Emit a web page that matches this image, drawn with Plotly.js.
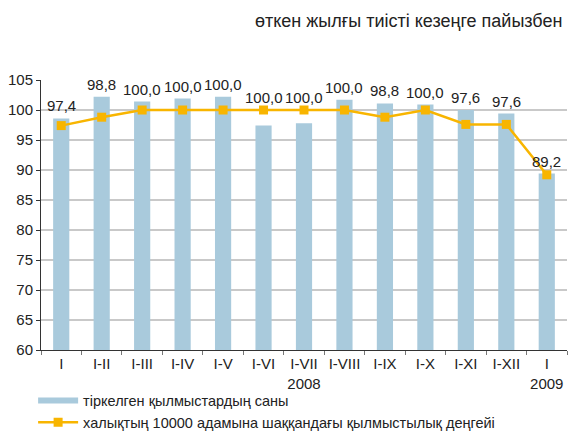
<!DOCTYPE html>
<html><head><meta charset="utf-8">
<script src="https://cdn.plot.ly/plotly-3.0.1.min.js"></script>
<style>body{margin:0;background:#fff}#chart{width:571px;height:433px}</style>
</head><body><div id="chart"></div>
<script>
var categories = ["I","I-II","I-III","I-IV","I-V","I-VI","I-VII","I-VIII","I-IX","I-X","I-XI","I-XII","I "];
var tickLabels = ["I","I-II","I-III","I-IV","I-V","I-VI","I-VII<br>2008","I-VIII","I-IX","I-X","I-XI","I-XII","I<br>2009"];
var crimesCount = [98.6,102.2,101.4,101.9,102.2,97.4,97.8,101.7,101.1,100.9,100.0,99.4,89.4];
var crimeRate = [97.4,98.8,100.0,100.0,100.0,100.0,100.0,100.0,98.8,100.0,97.6,97.6,89.2];
var barName = "тіркелген қылмыстардың саны";
var lineName = "халықтың 10000 адамына шаққандағы қылмыстылық деңгейі";
var titleText = "өткен жылғы тиісті кезеңге пайызбен";

var barColor = "#a9cadc", lineColor = "#f8b500";
var font = "Liberation Sans, Arial, sans-serif";

var traces = [
  {type:"bar", x:categories, y:crimesCount, marker:{color:barColor}, width:0.4, showlegend:false, hoverinfo:"skip"},
  {type:"scatter", mode:"lines", x:[categories[0]], y:[null], name:barName, line:{color:barColor, width:6}, showlegend:true},
  {type:"scatter", mode:"lines+markers", x:categories, y:crimeRate, name:lineName,
   line:{color:lineColor, width:2.5}, marker:{symbol:"square", size:9, color:lineColor}}
];

var annotations = categories.map(function(c,i){
  return {x:c, y:Math.max(crimesCount[i], crimeRate[i]), text:crimeRate[i].toFixed(1).replace(".", ","),
    showarrow:false, yanchor:"bottom", yshift:2, font:{family:font, size:15, color:"#222"}};
});

var layout = {
  width:571, height:433,
  margin:{l:41, r:4, t:80, b:83},
  paper_bgcolor:"#fff", plot_bgcolor:"#fff",
  font:{family:font, size:15, color:"#222"},
  title:{text:titleText, x:0.985, xanchor:"right", y:0.953, yanchor:"middle", font:{family:font, size:18, color:"#222"}},
  bargap:0.6,
  xaxis:{type:"category", range:[-0.5,12.5], autorange:false, tickvals:categories, ticktext:tickLabels, tickangle:0, automargin:false, showline:true, linecolor:"#333", linewidth:1,
    ticks:"outside", tickson:"boundaries", ticklen:4, tickcolor:"#777", showgrid:false,
    tickfont:{family:font, size:15, color:"#222"}, fixedrange:true},
  yaxis:{range:[60,105], dtick:5, automargin:false, showline:true, linecolor:"#333", linewidth:1, ticks:"outside", ticklen:4, tickcolor:"#333",
    showgrid:true, gridcolor:"#c9c9c9", gridwidth:2, zeroline:false, tickfont:{family:font, size:15, color:"#222"}},
  legend:{x:-0.015, xanchor:"left", yref:"container", y:0.112, yanchor:"top", orientation:"v", font:{family:font, size:14.5, color:"#222"},
    tracegroupgap:0, itemwidth:40, bgcolor:"rgba(0,0,0,0)"},
  annotations:annotations,
  showlegend:true
};
Plotly.newPlot("chart", traces, layout, {displayModeBar:false, staticPlot:true});
</script></body></html>
